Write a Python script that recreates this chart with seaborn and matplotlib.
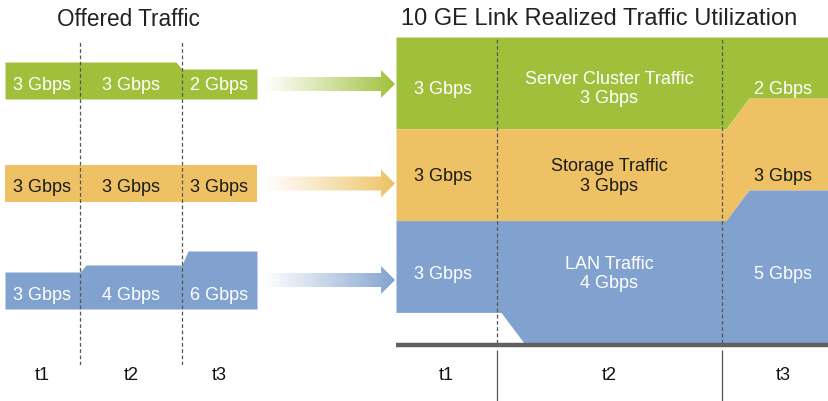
import numpy as np
import matplotlib.pyplot as plt
import seaborn as sns
from matplotlib.patches import Polygon

# Traffic classes and time intervals
periods = ['t1', 't2', 't3']
class_names = ['Server Cluster Traffic', 'Storage Traffic', 'LAN Traffic']

# Offered traffic per interval (Gbps)
offered_cluster = [3, 3, 2]
offered_storage = [3, 3, 3]
offered_lan = [3, 4, 6]

# Realized traffic on the 10 GE link (Gbps)
realized_cluster = [3, 3, 2]
realized_storage = [3, 3, 3]
realized_lan = [3, 4, 5]
link_capacity = 10

sns.set_theme(style='white')
plt.rcParams['font.family'] = ['Liberation Sans', 'DejaVu Sans']

colors = sns.color_palette(['#a0c03b', '#eec264', '#81a2cf'])
text_colors = ['white', '#1a1a1a', 'white']
DARK = '#222222'

W, H = 829, 401
fig = plt.figure(figsize=(W / 100, H / 100), dpi=100, facecolor='white')


def add_px_axes(x0, y0, x1, y1):
    ax = fig.add_axes([x0 / W, 1 - y1 / H, (x1 - x0) / W, (y1 - y0) / H])
    ax.set_axis_off()
    return ax


def profile(values, edges, slant, rule, offset=0):
    # step outline with a chamfered transition between intervals
    xs, ys = [edges[0]], [values[0]]
    for i in range(1, len(values)):
        prev, cur, e = values[i - 1], values[i], edges[i]
        if rule == 'higher' and cur < prev:
            a, b = e - slant, e
        else:
            a, b = e + offset, e + offset + slant
        xs += [a, b]
        ys += [prev, cur]
    xs.append(edges[-1])
    ys.append(values[-1])
    return np.array(xs, float), np.array(ys, float)


def fmt(v):
    return f'{v} Gbps'


# ---------------- Offered traffic (left) ----------------
axl = add_px_axes(5, 40, 257, 365)
left_edges = [0, 75, 177, 252]
left_base = [59, 162, 269]
axl.set_xlim(0, 252)
axl.set_ylim(325, 0)

offered = [offered_cluster, offered_storage, offered_lan]
left_centers = [(left_edges[i] + left_edges[i + 1]) / 2 for i in range(3)]
for r, vals in enumerate(offered):
    heights = [16 + 7 * v for v in vals]
    xs, hs = profile(heights, left_edges, 6, 'higher')
    axl.fill_between(xs, left_base[r], left_base[r] - hs, color=colors[r], lw=0, zorder=1)
    for c, v in zip(left_centers, vals):
        axl.text(c, left_base[r] - 14, fmt(v), ha='center', va='center',
                 fontsize=13, color=text_colors[r], zorder=3)

for e in left_edges[1:3]:
    axl.axvline(e, color='#555555', lw=0.9, ls=(0, (3, 2)), zorder=2)
for c, p in zip(left_centers, periods):
    axl.text(c, 335, p, ha='center', va='center', fontsize=13, color='#111111')

# ---------------- Gradient arrows ----------------
axa = add_px_axes(262, 40, 397, 365)
axa.set_xlim(0, 135)
axa.set_ylim(325, 0)
for r, vals in enumerate(offered):
    yc = left_base[r] - (16 + 7 * vals[-1]) / 2
    pts = [(0, yc - 7), (119, yc - 7), (119, yc - 14), (133, yc),
           (119, yc + 14), (119, yc + 7), (0, yc + 7)]
    poly = Polygon(pts, closed=True, facecolor='none', edgecolor='none')
    axa.add_patch(poly)
    grad = np.zeros((2, 256, 4))
    grad[..., :3] = colors[r]
    grad[..., 3] = np.linspace(0, 1, 256) ** 1.1
    im = axa.imshow(grad, extent=(0, 133, yc + 14, yc - 14), aspect='auto',
                    interpolation='bilinear')
    im.set_clip_path(poly)
axa.set_xlim(0, 135)
axa.set_ylim(325, 0)

# ---------------- Realized traffic (right) ----------------
axr = add_px_axes(396, 37, 844, 343)
right_edges = [0, 101, 326, 448]
axr.set_xlim(0, 448)
axr.set_ylim(link_capacity, 0)

realized = [realized_cluster, realized_storage, realized_lan]
cum = np.cumsum(np.array(realized), axis=0)
upper = np.zeros(3)
for r in range(3):
    xs, top = profile(list(upper), right_edges, 23, 'later', offset=4)
    _, bot = profile(list(cum[r]), right_edges, 23, 'later', offset=4)
    axr.fill_between(xs, top, bot, color=colors[r], lw=0, zorder=1)
    upper = cum[r]

right_centers = [(right_edges[i] + right_edges[i + 1]) / 2 for i in range(3)]
label_y = [1.7, 4.55, 7.75]
for r, vals in enumerate(realized):
    for i, (c, v) in enumerate(zip(right_centers, vals)):
        txt = f'{class_names[r]}\n{fmt(v)}' if i == 1 else fmt(v)
        axr.text(c - (3 if i == 0 else 0), label_y[r], txt, ha='center', va='center',
                 fontsize=13, color=text_colors[r], linespacing=1.2, zorder=3)

for e in right_edges[1:3]:
    axr.axvline(e, color='#555555', lw=0.9, ls=(0, (3, 2)), zorder=2)
axr.vlines(right_edges[1:3], -58 / 306, -7 / 306, transform=axr.get_xaxis_transform(),
           color='#555555', lw=0.9, clip_on=False)
axr.plot([0, 1], [-2 / 306, -2 / 306], transform=axr.transAxes, color='#5f6062',
         lw=3.2, clip_on=False, solid_capstyle='butt', zorder=4)
for c, p in zip(right_centers, periods):
    axr.text(c, -32 / 306, p, ha='center', va='center', fontsize=13, color='#111111',
             transform=axr.get_xaxis_transform())

# ---------------- Titles ----------------
fig.text(128 / W, 1 - 19 / H, 'Offered Traffic', ha='center', va='center',
         fontsize=16.3, color=DARK)
fig.text(599 / W, 1 - 19 / H, '10 GE Link Realized Traffic Utilization', ha='center',
         va='center', fontsize=17, color=DARK)

fig.savefig('out.png', dpi=100)
